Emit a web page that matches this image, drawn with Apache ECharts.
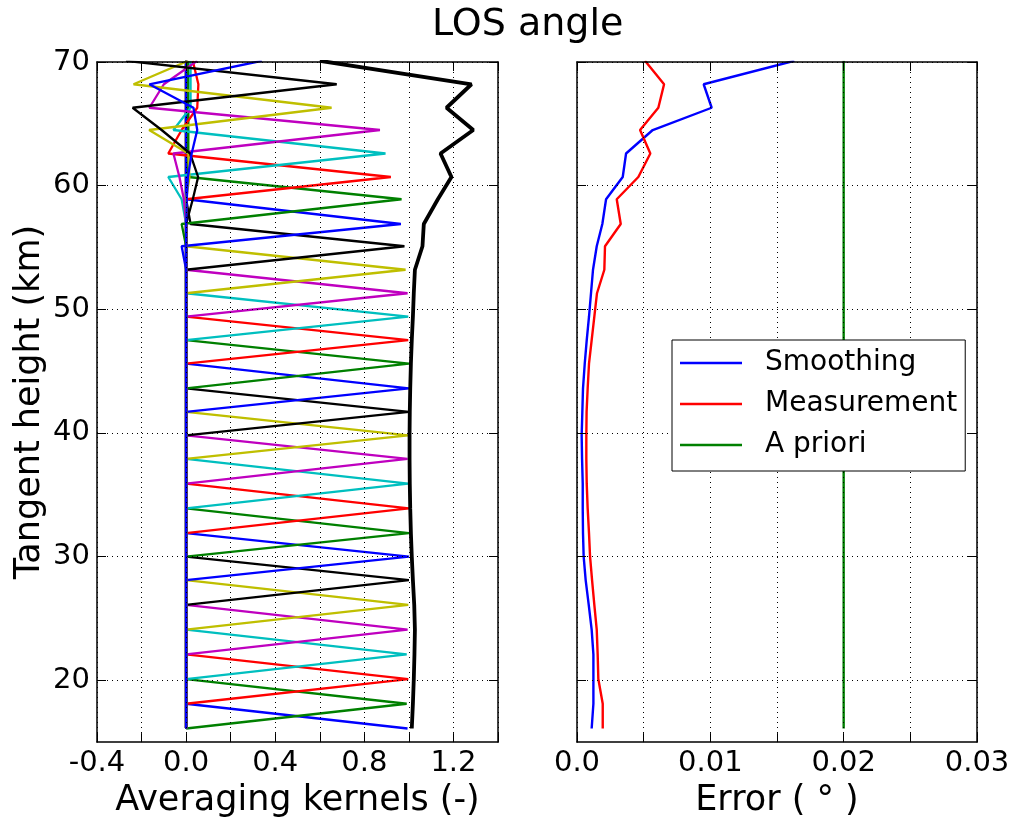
<!DOCTYPE html>
<html>
<head>
<meta charset="utf-8">
<script src="https://cdn.jsdelivr.net/npm/echarts@6/dist/echarts.min.js"></script>
<style>
  html, body { margin: 0; padding: 0; background: #fff; }
  #chart { width: 1017px; height: 823px; }
</style>
</head>
<body>
<div id="chart"></div>
<script>
// Retrieval levels (tangent heights, km)
const heights = [16.1, 18.1, 20.1, 22.1, 24.1, 26.1, 28.1, 30.0, 31.9, 33.9, 35.9, 37.9, 39.8, 41.7, 43.6,
  45.6, 47.5, 49.4, 51.3, 53.2, 55.1, 56.9, 58.9, 60.7, 62.6, 64.5, 66.3, 68.2, 70.1];

// Averaging kernel value of each kernel at its own level
const kernelPeaks = [0.994, 0.99, 0.997, 0.99, 0.994, 0.997, 1.0, 1.0, 1.0, 1.0, 0.997, 0.994, 0.997, 1.0, 1.0,
  1.0, 0.997, 0.997, 0.994, 0.985, 0.98, 0.964, 0.967, 0.919, 0.895, 0.87, 0.653, 0.676, 0.34];

// Off-peak kernel values that differ from zero: [kernel, level, value]
const kernelSideValues = [
  [20, 21, 0.02],
  [21, 20, -0.02],
  [22, 21, -0.02], [22, 23, 0.01], [22, 24, 0.01], [22, 25, 0.01], [22, 26, 0.01], [22, 27, 0.01], [22, 28, 0.01],
  [23, 24, -0.08], [23, 25, -0.02], [23, 26, 0.05], [23, 27, 0.055], [23, 28, 0.03],
  [24, 22, -0.02], [24, 23, -0.08], [24, 25, -0.057], [24, 26, 0.02], [24, 27, 0.02], [24, 28, 0.02],
  [25, 22, -0.01], [25, 23, -0.03], [25, 24, -0.057], [25, 26, -0.165], [25, 27, -0.10], [25, 28, 0.05],
  [26, 23, 0.015], [26, 24, 0.01], [26, 25, -0.166], [26, 27, -0.236], [26, 28, 0.01],
  [27, 22, 0.03], [27, 23, 0.054], [27, 24, 0.018], [27, 25, -0.11], [27, 26, -0.24], [27, 28, -0.27],
  [28, 22, 0.003], [28, 23, 0.008], [28, 24, 0.025], [28, 25, 0.05], [28, 26, 0.033], [28, 27, -0.165]
];

// Sum of kernels at each level (measurement response)
const kernelSum = [1.013, 1.018, 1.022, 1.025, 1.027, 1.024, 1.018, 1.013, 1.009, 1.006, 1.004, 1.003, 1.003, 1.004,
  1.006, 1.009, 1.013, 1.018, 1.022, 1.027, 1.061, 1.067, 1.13, 1.191, 1.142, 1.289, 1.169, 1.281, 0.6];

// Error contributions (degrees)
const smoothingError = [0.0011, 0.00123, 0.00123, 0.00123, 0.0011, 0.00088, 0.00065, 0.0005, 0.00045, 0.00043,
  0.00043, 0.00038, 0.00035, 0.0004, 0.00045, 0.00058, 0.00073, 0.0009, 0.00105, 0.0012, 0.00148, 0.0019,
  0.00218, 0.00343, 0.00368, 0.00568, 0.0101, 0.0095, 0.0163];
const measurementError = [0.00193, 0.00193, 0.0016, 0.00155, 0.00148, 0.0013, 0.00113, 0.00098, 0.0009, 0.0008,
  0.00073, 0.0007, 0.0007, 0.00072, 0.0008, 0.0009, 0.0011, 0.0013, 0.0015, 0.00205, 0.0021, 0.00328,
  0.00298, 0.0046, 0.0055, 0.00473, 0.0061, 0.00653, 0.0051];
const aprioriError = [0.02, 0.02, 0.02, 0.02, 0.02, 0.02, 0.02, 0.02, 0.02, 0.02, 0.02, 0.02, 0.02, 0.02, 0.02,
  0.02, 0.02, 0.02, 0.02, 0.02, 0.02, 0.02, 0.02, 0.02, 0.02, 0.02, 0.02, 0.02, 0.02];

const heightTicks = [20, 30, 40, 50, 60, 70];
const errorNames = ['Smoothing', 'Measurement', 'A priori'];

// matplotlib classic colour cycle
const cycle = ['#0000ff', '#008000', '#ff0000', '#00bfbf', '#bf00bf', '#bfbf00', '#000000'];
const FONT = 'DejaVu Sans';
const TICK_FONT = 29;
const NAME_FONT = 35;

function kernelColumn(k) {
  const vals = heights.map(() => 0);
  vals[k] = kernelPeaks[k];
  kernelSideValues.forEach(([kk, lev, v]) => { if (kk === k) vals[lev] = v; });
  return vals.map((v, i) => [v, heights[i]]);
}

const frameLine = { show: true, onZero: false, lineStyle: { color: '#000', width: 1.5 } };
const dotted = { show: true, lineStyle: { color: '#000', width: 1, type: [1, 4] } };
const tickIn = (extra) => Object.assign({ show: true, inside: true, length: 9, lineStyle: { color: '#000', width: 1 } }, extra || {});

function yAxes(grid, withLabels) {
  return [
    {
      gridIndex: grid, type: 'value', position: 'left', min: 15, max: 70, z: 3,
      axisLine: frameLine,
      axisTick: tickIn({ customValues: heightTicks }),
      axisLabel: { show: withLabels, customValues: heightTicks, fontSize: TICK_FONT, color: '#000', margin: 7, fontFamily: FONT },
      splitLine: dotted,
      name: withLabels ? 'Tangent height (km)' : '',
      nameLocation: 'middle', nameRotate: 90, nameGap: 50,
      nameTextStyle: { fontSize: NAME_FONT, color: '#000', fontFamily: FONT }
    },
    {
      gridIndex: grid, type: 'value', position: 'right', min: 15, max: 70, z: 3,
      axisLine: frameLine,
      axisTick: tickIn({ customValues: heightTicks }),
      axisLabel: { show: false },
      splitLine: { show: false }
    }
  ];
}

const series = [];
for (let k = 0; k < heights.length; k++) {
  series.push({
    name: 'kernel ' + (k + 1), type: 'line', xAxisIndex: 0, yAxisIndex: 0,
    data: kernelColumn(k), symbol: 'none', clip: true,
    lineStyle: { color: cycle[k % 7], width: 2.3 }, itemStyle: { color: cycle[k % 7] }, z: 2
  });
}
series.push({
  name: 'sum', type: 'line', xAxisIndex: 0, yAxisIndex: 0,
  data: kernelSum.map((v, i) => [v, heights[i]]), symbol: 'none', clip: true,
  lineStyle: { color: '#000', width: 3.8 }, z: 2
});
[smoothingError, measurementError, aprioriError].forEach((arr, i) => {
  const col = ['#0000ff', '#ff0000', '#008000'][i];
  series.push({
    name: errorNames[i], type: 'line', xAxisIndex: 2, yAxisIndex: 2,
    data: arr.map((v, j) => [v, heights[j]]), symbol: 'none', clip: true,
    lineStyle: { color: col, width: 2.4 }, itemStyle: { color: col }, z: 2
  });
});

const option = {
  animation: false,
  backgroundColor: '#fff',
  textStyle: { fontFamily: FONT },
  title: {
    text: 'LOS angle', left: 427, top: 1,
    textStyle: { fontSize: 38, fontWeight: 'normal', color: '#000', fontFamily: FONT }
  },
  legend: {
    data: errorNames, orient: 'vertical', left: 672, top: 340,
    icon: 'rect', itemWidth: 62, itemHeight: 2.4, itemGap: 11,
    padding: [8, 8, 11, 8],
    backgroundColor: '#fff', borderColor: '#000', borderWidth: 1, borderRadius: 0,
    textStyle: { fontSize: 28, color: '#000', lineHeight: 30, padding: [0, 0, 0, 18], fontFamily: FONT }
  },
  grid: [
    { left: 97, top: 62, width: 401, height: 685, containLabel: false },
    { left: 577, top: 62, width: 400, height: 685, containLabel: false }
  ],
  xAxis: [
    {
      gridIndex: 0, type: 'value', position: 'bottom', min: -0.4, max: 1.4, interval: 0.2, z: 3,
      axisLine: frameLine, axisTick: tickIn(),
      axisLabel: {
        fontSize: TICK_FONT, color: '#000', margin: 7, fontFamily: FONT,
        formatter: v => (Math.abs(Math.round(v * 10)) % 4 === 0 ? v.toFixed(1) : '')
      },
      splitLine: dotted,
      name: 'Averaging kernels (-)', nameLocation: 'middle', nameGap: 34,
      nameTextStyle: { fontSize: NAME_FONT, color: '#000', fontFamily: FONT, verticalAlign: 'top' }
    },
    {
      gridIndex: 0, type: 'value', position: 'top', min: -0.4, max: 1.4, interval: 0.2, z: 3,
      axisLine: frameLine, axisTick: tickIn(), axisLabel: { show: false }, splitLine: { show: false }
    },
    {
      gridIndex: 1, type: 'value', position: 'bottom', min: 0, max: 0.03, interval: 0.005, z: 3,
      axisLine: frameLine, axisTick: tickIn(),
      axisLabel: {
        fontSize: TICK_FONT, color: '#000', margin: 7, fontFamily: FONT,
        formatter: v => {
          const m = Math.round(v * 1000);
          if (m % 10 !== 0) return '';
          return m === 0 ? '0.0' : v.toFixed(2);
        }
      },
      splitLine: dotted,
      name: 'Error ( \u00b0 )', nameLocation: 'middle', nameGap: 34,
      nameTextStyle: { fontSize: NAME_FONT, color: '#000', fontFamily: FONT, verticalAlign: 'top' }
    },
    {
      gridIndex: 1, type: 'value', position: 'top', min: 0, max: 0.03, interval: 0.005, z: 3,
      axisLine: frameLine, axisTick: tickIn(), axisLabel: { show: false }, splitLine: { show: false }
    }
  ],
  yAxis: yAxes(0, true).concat(yAxes(1, false)),
  series: series
};

const chart = echarts.init(document.getElementById('chart'), null, { renderer: 'canvas' });
chart.setOption(option);
</script>
</body>
</html>
